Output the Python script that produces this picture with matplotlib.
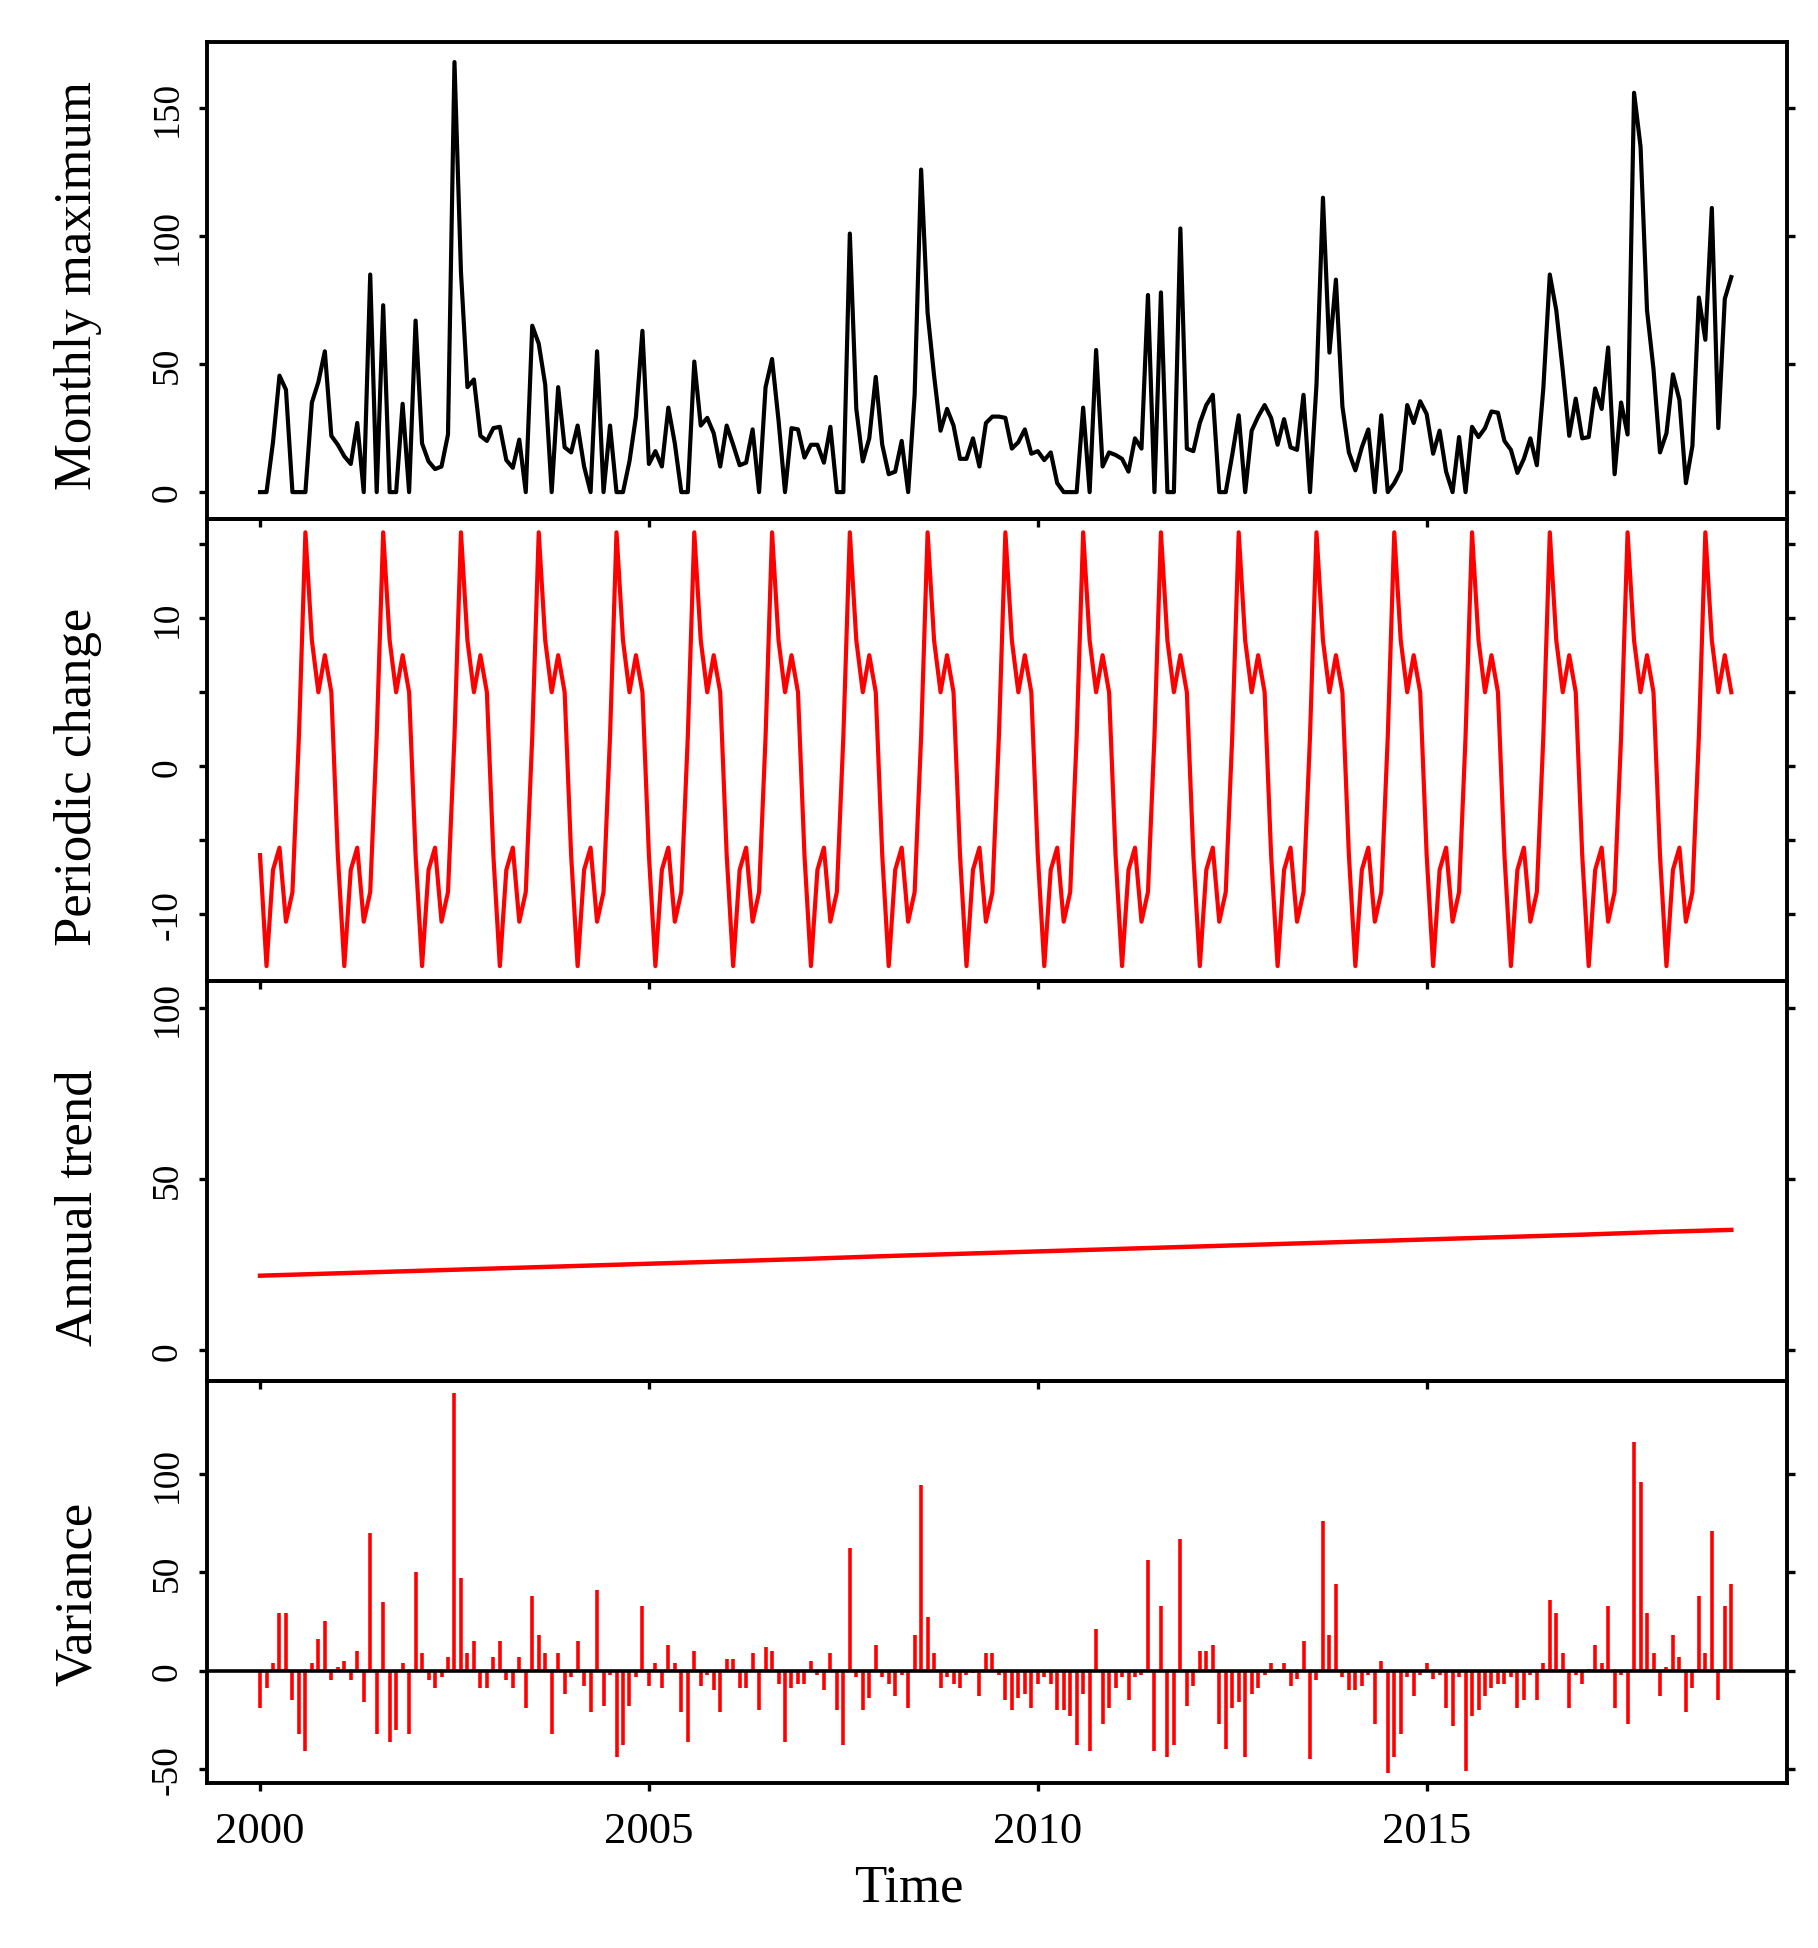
import numpy as np
import matplotlib.pyplot as plt

plt.rcParams['font.family'] = ['Liberation Serif', 'DejaVu Serif']
plt.rcParams['axes.unicode_minus'] = False

# monthly series, Jan 2000 - Dec 2018
start_year = 2000

monthly_max = [
    0, 0, 19.5, 45.5, 40, 0, 0, 0, 35, 43, 55, 22,
    18.5, 14, 11, 27, 0, 85, 0, 73, 0, 0, 34.5, 0,
    67, 19, 12, 9, 10, 22.5, 168, 86, 41, 44, 22, 20,
    25, 25.5, 12.5, 9.5, 20.5, 0, 65, 58, 42, 0, 41, 17.5,
    15.5, 26, 10, 0, 55, 0, 26, 0, 0, 12, 29.5, 63,
    11, 16, 10, 33, 19, 0, 0, 51, 26, 29, 23, 10,
    26, 18.5, 10.5, 11.5, 24.5, 0, 41, 52, 28, 0, 25, 24.5,
    13.5, 18.5, 18.5, 11.5, 25.5, 0, 0, 101, 32.5, 12, 21, 45,
    18.5, 7, 8, 20, 0, 38, 126, 70, 45.5, 24, 32.5, 26,
    13, 13, 21, 10, 27, 29.5, 29.5, 29, 17, 19.5, 24.5, 15,
    16, 12.5, 15.5, 3.5, 0, 0, 0, 33, 0, 55.5, 10, 15.5,
    14.5, 13, 8, 21, 17, 77, 0, 78, 0, 0, 103, 17,
    16, 27, 34, 38, 0, 0, 14.5, 30, 0, 24, 29.5, 34,
    29, 18.5, 28.5, 17.5, 16.5, 38, 0, 42, 115, 54.5, 83, 33.5,
    15.5, 8.5, 17.5, 24.5, 0, 30, 0, 3.5, 8.5, 34, 27, 35.5,
    30.5, 15, 24, 8, 0, 21.5, 0, 25.5, 21.5, 25, 31.5, 31,
    20, 16.5, 7.5, 13, 21, 10.5, 40.5, 85, 71, 47.5, 22, 36.5,
    21, 21.5, 40.5, 32.5, 56.5, 7, 35, 22.5, 156, 135, 71, 48,
    15.5, 23, 46, 36, 3.5, 18, 76, 59.5, 111, 25, 75.5, 84,
]

# one year of the periodic component (Jan..Dec)
seasonal_cycle = [-6, -13.5, -7, -5.5, -10.5, -8.5, 2, 15.8, 8.5, 5, 7.5, 5]

trend_years = [2000, 2001, 2002, 2003, 2004, 2005, 2006, 2007, 2008, 2009,
               2010, 2011, 2012, 2013, 2014, 2015, 2016, 2017, 2018, 2018.917]
trend_values = [21.8, 22.5, 23.2, 23.9, 24.6, 25.3, 26.0, 26.7, 27.5, 28.2,
                28.9, 29.6, 30.3, 31.0, 31.7, 32.4, 33.1, 33.8, 34.6, 35.2]

remainder = [
    -19, -9, 4, 29, 29, -15, -32, -41, 4, 16, 25, -5,
    2, 5, -5, 10, -16, 70, -32, 35, -36, -30, 4, -32,
    50, 9, -5, -9, -3, 7, 141, 47, 9, 15, -9, -9,
    7, 15, -5, -9, 7, -19, 38, 18, 9, -32, 9, -12,
    -3, 15, -8, -21, 41, -18, -2, -44, -38, -18, -3, 33,
    -8, 4, -9, 13, 4, -21, -36, 10, -8, -2, -10, -21,
    6, 6, -9, -9, 9, -20, 12, 10, -7, -36, -9, -7,
    -7, 5, -2, -10, 9, -20, -38, 62, -3, -20, -14, 13,
    -3, -7, -13, -2, -19, 18, 94, 27, 9, -9, -3, -7,
    -9, -2, -1, -13, 9, 9, -2, -15, -20, -14, -12, -19,
    -7, -3, -7, -20, -20, -23, -38, -12, -41, 21, -27, -19,
    -9, -3, -15, -3, -2, 56, -41, 33, -44, -38, 67, -18,
    -8, 10, 10, 13, -27, -40, -19, -16, -44, -12, -9, -2,
    4, 1, 4, -8, -4, 15, -45, -5, 76, 18, 44, -3,
    -10, -10, -8, -2, -27, 5, -52, -44, -32, -3, -13, -2,
    4, -4, -2, -19, -28, -3, -51, -23, -20, -13, -9, -7,
    -7, -3, -19, -15, -2, -15, 4, 36, 29, 9, -19, -2,
    -7, 1, 13, 4, 33, -19, -2, -27, 116, 96, 29, 9,
    -13, 2, 18, 7, -21, -9, 38, 9, 71, -15, 33, 44,
]

t = start_year + np.arange(len(monthly_max)) / 12
seasonal = np.tile(seasonal_cycle, len(monthly_max) // 12)

fig = plt.figure(figsize=(18.18, 19.49), dpi=100)
left, right = 0.1139, 0.9829
edges = [0.9779, 0.7332, 0.4962, 0.2909, 0.0847]
axes = []
for k in range(4):
    ax = fig.add_axes([left, edges[k + 1], right - left, edges[k] - edges[k + 1]])
    ax.patch.set_visible(False)
    for sp in ax.spines.values():
        sp.set_linewidth(2.8)
    ax.set_xlim(1999.319, 2019.632)
    ax.set_xticks([2000, 2005, 2010, 2015])
    ax.tick_params(axis='x', direction='out', length=6, width=2.4,
                   labelbottom=(k == 3), labelsize=32, pad=14)
    ax.tick_params(axis='y', which='both', left=True, right=True,
                   direction='out', length=6, width=2.4, labelsize=27, pad=10)
    axes.append(ax)

ax1, ax2, ax3, ax4 = axes

ax1.plot(t, monthly_max, color='black', lw=3.0)
ax1.set_ylim(-10.5, 175.8)
ax1.set_yticks([0, 50, 100, 150])

ax2.plot(t, seasonal, color='red', lw=3.0)
ax2.set_ylim(-14.5, 16.7)
ax2.set_yticks([-10, 0, 10])
ax2.set_yticks([-5, 5, 15], minor=True)

ax3.plot(trend_years, trend_values, color='red', lw=3.2)
ax3.set_ylim(-9, 108)
ax3.set_yticks([0, 50, 100])

ax4.vlines(t, 0, remainder, color='red', lw=2.6)
ax4.axhline(0, color='black', lw=2.6)
ax4.set_ylim(-57, 147)
ax4.set_yticks([-50, 0, 50, 100])

for ax in axes:
    for lbl in ax.get_yticklabels():
        lbl.set_rotation(90)
        lbl.set_va('center')

labels = [('Monthly maximum', 286), ('Periodic change', 777),
          ('Annual trend', 1208), ('Variance', 1594)]
for text, ypx in labels:
    fig.text(78 / 1818, 1 - ypx / 1949, text, rotation=90,
             ha='center', va='center', fontsize=38)

fig.text(0.5, 1 - 1889 / 1949, 'Time', ha='center', va='center', fontsize=38)

fig.savefig('out.png', dpi=100)
